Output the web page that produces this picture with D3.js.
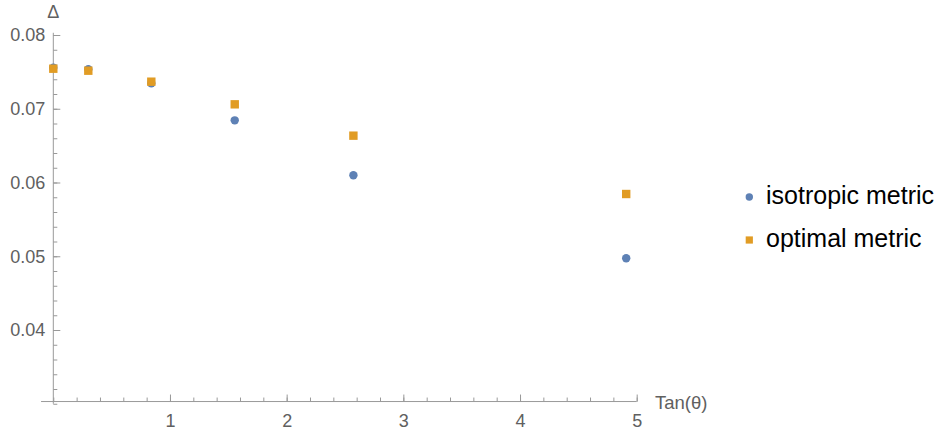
<!DOCTYPE html>
<html>
<head>
<meta charset="utf-8">
<script src="https://cdn.jsdelivr.net/npm/d3@7"></script>
<style>
  html, body { margin: 0; padding: 0; background: #fff; }
  svg { display: block; }
  text { font-family: "Liberation Sans", Arial, sans-serif; }
</style>
</head>
<body>
<svg id="chart" width="940" height="432"></svg>
<script>
// ---- data ----
const tanTheta  = [0, 0.30, 0.84, 1.555, 2.572, 4.91];
const isotropic = [0.07557, 0.07535, 0.07345, 0.06843, 0.06098, 0.04972];
const optimal   = [0.07543, 0.07516, 0.07367, 0.07060, 0.06635, 0.05844];
const xTickValues = [1, 2, 3, 4, 5];
const yTickValues = [0.04, 0.05, 0.06, 0.07, 0.08];
const seriesNames = ["isotropic metric", "optimal metric"];
const seriesColors = ["#5E81B5", "#E19C24"];

const svg = d3.select("#chart");
const x = d3.scaleLinear().domain([0, 5]).range([53.3, 636.7]);
const y = d3.scaleLinear().domain([0.04, 0.08]).range([330, 35]);
const xAxisY = y(0.0303);
const axisColor = "#999";
const labelColor = "#606060";

// axis lines
svg.append("line")
  .attr("x1", x(-0.105)).attr("x2", x(5.0))
  .attr("y1", xAxisY).attr("y2", xAxisY)
  .attr("stroke", axisColor).attr("stroke-width", 1);
svg.append("line")
  .attr("x1", x(0)).attr("x2", x(0))
  .attr("y1", y(0.030)).attr("y2", y(0.0803))
  .attr("stroke", axisColor).attr("stroke-width", 1);

// x minor ticks
const xMinor = d3.axisBottom(x)
  .tickValues(d3.range(0, 5.0001, 0.2))
  .tickSize(-4).tickSizeOuter(0).tickFormat("");
const gxm = svg.append("g").attr("transform", `translate(0,${xAxisY})`).call(xMinor);
gxm.select(".domain").remove();
gxm.selectAll("line").attr("stroke", axisColor);

// x major ticks
const xMajor = d3.axisBottom(x)
  .tickValues(xTickValues)
  .tickSize(-7).tickSizeOuter(0).tickPadding(13)
  .tickFormat(d3.format("d"));
const gx = svg.append("g").attr("transform", `translate(0,${xAxisY})`).call(xMajor);
gx.select(".domain").remove();
gx.selectAll("line").attr("stroke", axisColor);
gx.selectAll("text").attr("fill", labelColor).style("font-size", "18px")
  .style("font-family", "'Liberation Sans', Arial, sans-serif");

// y minor ticks
const yMinor = d3.axisLeft(y)
  .tickValues(d3.range(0, 26).map(i => 0.030 + i * 0.002))
  .tickSize(-4).tickSizeOuter(0).tickFormat("");
const gym = svg.append("g").attr("transform", `translate(${x(0)},0)`).call(yMinor);
gym.select(".domain").remove();
gym.selectAll("line").attr("stroke", axisColor);

// y major ticks
const yMajor = d3.axisLeft(y)
  .tickValues(yTickValues)
  .tickSize(-7).tickSizeOuter(0).tickPadding(8)
  .tickFormat(d3.format(".2f"));
const gy = svg.append("g").attr("transform", `translate(${x(0)},0)`).call(yMajor);
gy.select(".domain").remove();
gy.selectAll("line").attr("stroke", axisColor);
gy.selectAll("text").attr("fill", labelColor).style("font-size", "18px")
  .style("font-family", "'Liberation Sans', Arial, sans-serif");

// axis labels
svg.append("text").attr("x", x(0)).attr("y", 18)
  .attr("text-anchor", "middle").attr("fill", labelColor)
  .style("font-size", "18px").text("Δ");
svg.append("text").attr("x", 655).attr("y", xAxisY + 7)
  .attr("fill", labelColor).style("font-size", "18.5px").text("Tan(θ)");

// points
const pts = tanTheta.map((t, i) => ({ t, iso: isotropic[i], opt: optimal[i] }));
svg.append("g").selectAll("circle").data(pts).join("circle")
  .attr("cx", d => x(d.t)).attr("cy", d => y(d.iso)).attr("r", 4.2)
  .attr("fill", seriesColors[0]);
const s = 8.4;
svg.append("g").selectAll("rect").data(pts).join("rect")
  .attr("x", d => x(d.t) - s / 2).attr("y", d => y(d.opt) - s / 2)
  .attr("width", s).attr("height", s)
  .attr("fill", seriesColors[1]);

// legend
const legend = svg.append("g");
const ly = [197, 240];
legend.append("circle").attr("cx", 749.3).attr("cy", ly[0]).attr("r", 3.7).attr("fill", seriesColors[0]);
legend.append("rect").attr("x", 749.3 - 3.6).attr("y", ly[1] - 3.6).attr("width", 7.2).attr("height", 7.2).attr("fill", seriesColors[1]);
seriesNames.forEach((n, i) => {
  legend.append("text").attr("x", 766).attr("y", ly[i] + 6.8)
    .attr("fill", "#000").style("font-size", "25px").text(n);
});
</script>
</body>
</html>
